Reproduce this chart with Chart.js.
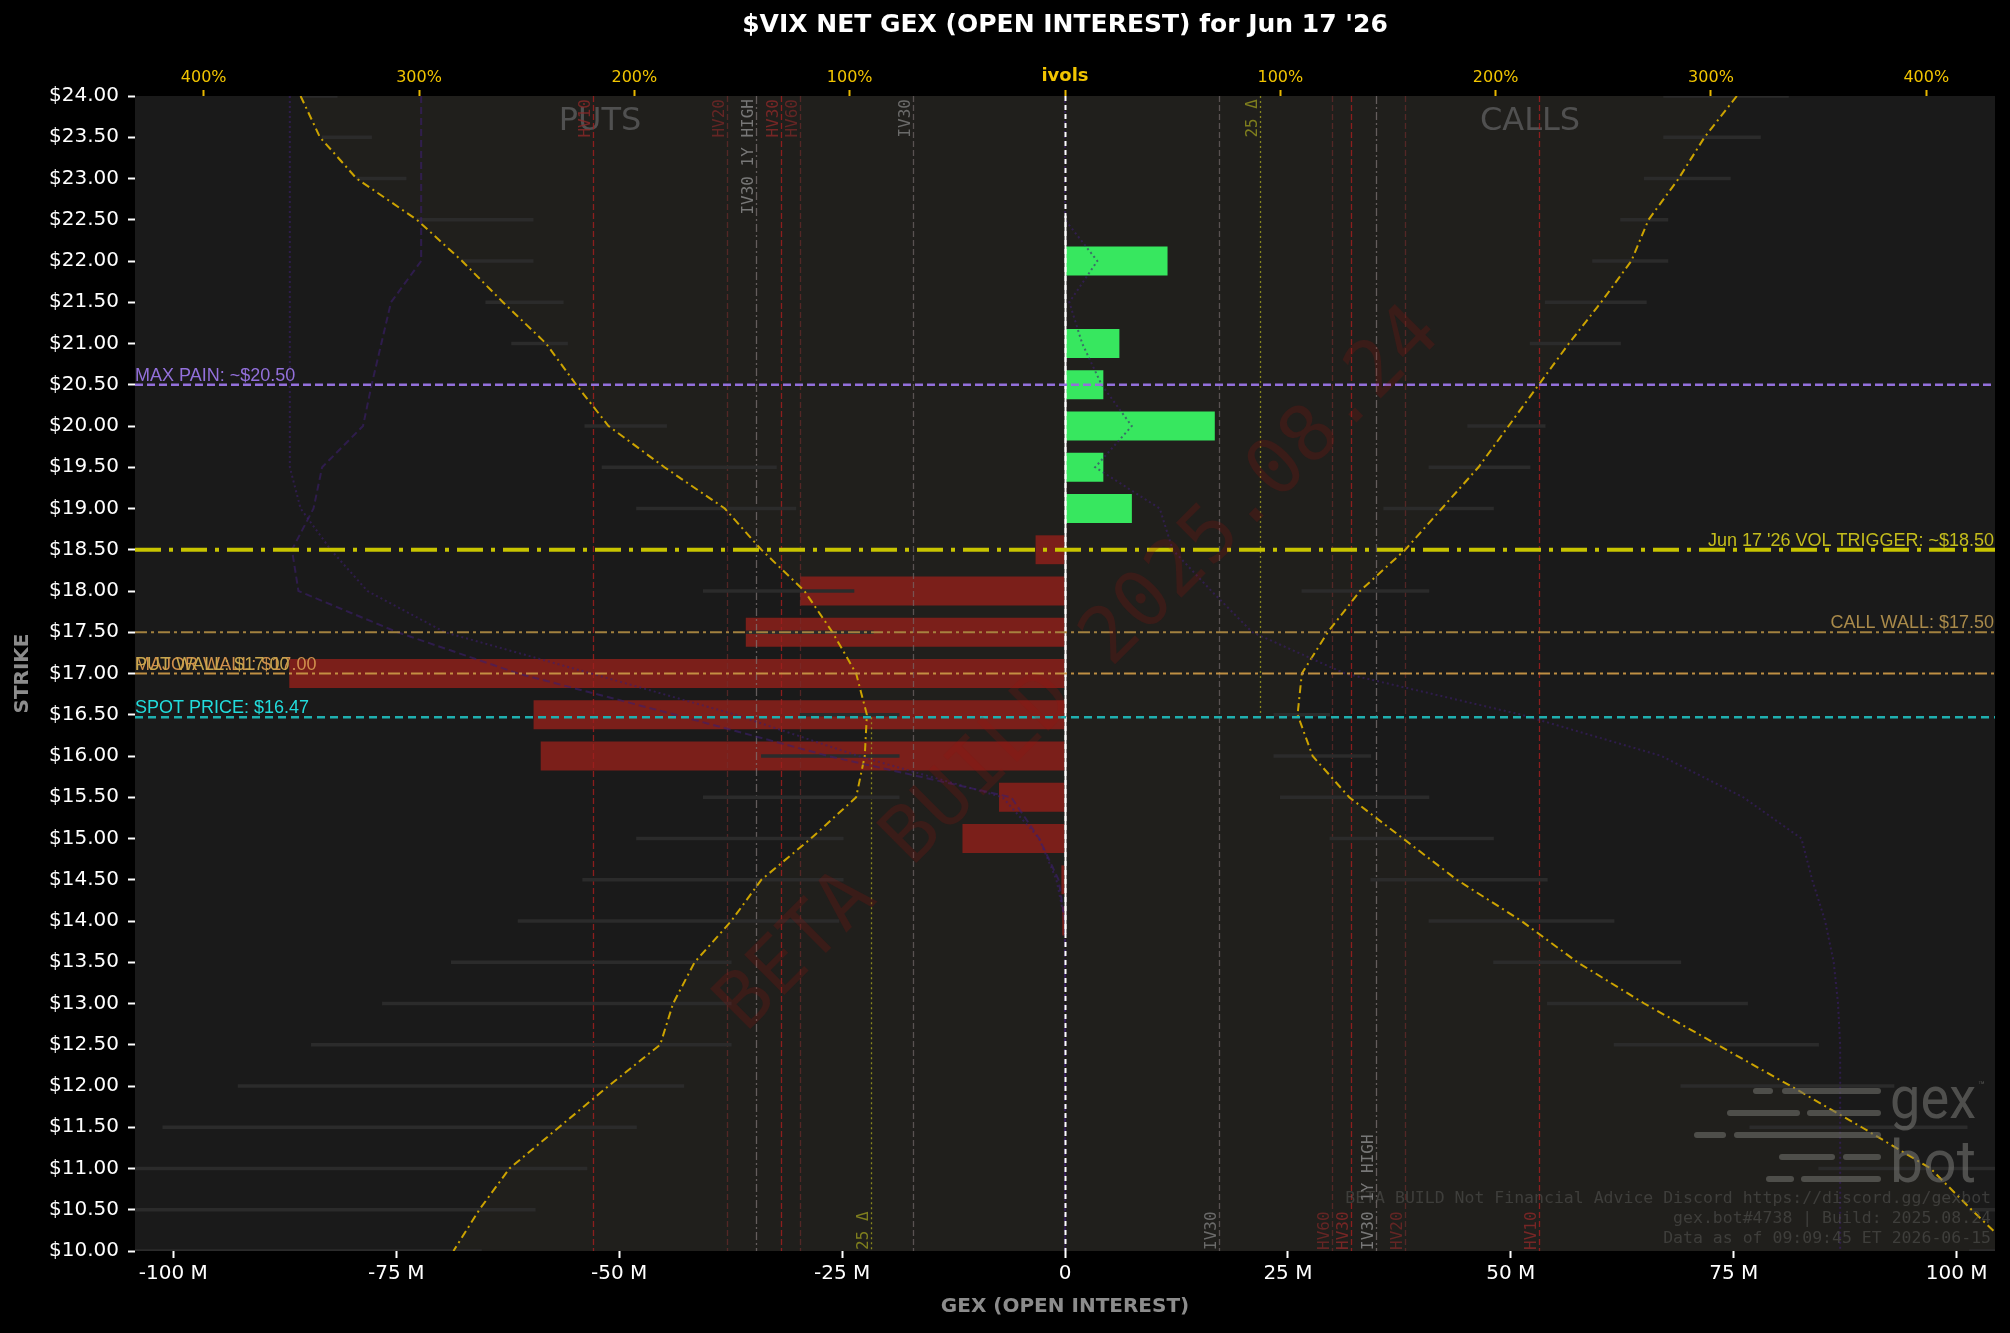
<!DOCTYPE html>
<html>
<head>
<meta charset="utf-8">
<title>$VIX NET GEX</title>
<script src="https://cdn.jsdelivr.net/npm/chart.js@4.4.1/dist/chart.umd.min.js"></script>
<style>
html,body{margin:0;padding:0;background:#000;overflow:hidden;}
canvas{display:block;}
</style>
</head>
<body>
<canvas id="chart" width="2010" height="1333"></canvas>
<script>
// ---------------- data ----------------
const chartTitle = "$VIX NET GEX (OPEN INTEREST) for Jun 17 '26";
const xAxisTitle = "GEX (OPEN INTEREST)";
const yAxisTitle = "STRIKE";

// net GEX bars (millions)
const gexStrikes = [22, 21, 20.5, 20, 19.5, 19, 18.5, 18, 17.5, 17, 16.5, 16, 15.5, 15, 14.5, 14];
const gexValues  = [11.5, 6.1, 4.3, 16.8, 4.3, 7.5, -3.3, -29.7, -35.8, -87.0, -59.6, -58.8, -7.4, -11.5, -0.4, -0.3];

// implied vol smile (percent), per strike
const ivolStrikes = [24, 23.5, 23, 22.5, 22, 21.5, 21, 20.5, 20, 19.5, 19, 18.5, 18, 17.5, 17, 16.5, 16, 15.5, 15, 14.5, 14, 13.5, 13, 12.5, 12, 11.5, 11, 10.5, 10];
const putIvol  = [355, 346, 329, 301, 280, 261, 241, 227, 212, 186, 158, 141, 121, 108, 97, 92, 93, 97, 118, 141, 155, 172, 182, 188, 212, 235, 258, 272, 284];
const callIvol = [312, 297, 285, 271, 263, 249, 234, 220, 206, 192, 175, 158, 137, 122, 110, 108, 115, 132, 157, 182, 212, 238, 269, 303, 337, 370, 402, 421, 441];

// bid/ask ivol ranges (percent, put side negative)
const putRangeLo  = [-355, -345, -329, -301, -280, -269, -257, null, -223, -215, -199, null, -168, -148, null, -123, -141, -168, -199, -224, -254, -285, -317, -350, -384, -419, -445, -445, -445];
const putRangeHi  = [-338, -322, -306, -247, -247, -233, -231, null, -185, -134, -125, null, -98, -89, null, -77, -77, -77, -103, -103, -105, -155, -155, -155, -177, -199, -222, -246, -271];
const callRangeLo = [278, 278, 269, 258, 245, 223, 216, null, 187, 169, 148, null, 110, null, null, 97, 97, 100, 123, 142, 169, 199, 224, 255, 286, 318, 350, 420, 420];
const callRangeHi = [336, 323, 309, 280, 280, 270, 258, null, 223, 216, 199, null, 169, null, null, 123, 142, 169, 199, 224, 255, 286, 317, 350, 385, 419, 445, 445, 445];

// faint secondary curves (percent)
const priorDashY = [24, 22, 21.5, 20.5, 20, 19.5, 19, 18.5, 18, 17.5, 17, 16.5, 16, 15.5, 15, 14.5, 14, 10];
const priorDashX = [-299, -299, -313, -322, -326, -345, -349, -359, -356, -310, -254, -181, -110, -25, -12, -3, 0, 0];
const priorDotLY = [24, 19.5, 19, 18.5, 18, 17.5, 17, 16.5, 16, 15.5, 15, 14.5, 14, 10];
const priorDotLX = [-360, -360, -355, -341, -324, -288, -220, -153, -96, -29, -12, -4, 0, 0];
const priorDotRY = [24, 22.5, 22, 21.5, 21, 20.5, 20, 19.5, 19, 18.5, 18, 17.5, 17, 16.5, 16, 15.5, 15, 14.5, 14, 13.5, 13, 12.5, 10];
const priorDotRX = [0, 0, 15, 2, 8, 17, 31, 14, 44, 50, 68, 87, 130, 212, 277, 315, 342, 347, 353, 357, 359, 360, 360];

// key levels
const maxPain = 20.5;
const volTrigger = 18.5;
const callWall = 17.5;
const putWall = 17.0;
const majorWall = 17.0;
const spotPrice = 16.47;
const expiryLabel = "Jun 17 '26";
const zeroLineSpan = [13.85, 22.55];

// volatility reference levels (percent)
const ivolLevelNames = ['HV10', 'HV20', 'IV30 1Y HIGH', 'HV30', 'HV60', 'IV30'];
const putIvolLevels  = [-219.3, -157.0, -143.4, -131.8, -123.2, -70.8];
const callIvolLevels = [220.3, 157.7, 144.3, 132.7, 124.2, 71.7];
const put25Delta = -90.0;
const call25Delta = 90.5;

// axis ranges / ticks
const gexRange = [-104.3, 104.3];
const gexStep = 25;
const ivolRange = [-431.9, 431.9];
const ivolStep = 100;
const strikeRange = [10, 24];
const strikeStep = 0.5;

const footerLines = [
  'BETA BUILD Not Financial Advice Discord https://discord.gg/gexbot',
  'gex.bot#4738 | Build: 2025.08.24',
  'Data as of 09:09:45 ET 2026-06-15'
];
const watermarkText = 'BETA BUILD 2025.08.24';

// ---------------- styles ----------------
const vStyle = {
  'HV10':         {line: 'rgba(160,30,30,0.85)', dash: [6, 3], text: 'rgba(140,40,40,0.8)'},
  'HV20':         {line: 'rgba(120,45,45,0.6)',  dash: [6, 3], text: 'rgba(130,40,40,0.7)'},
  'IV30 1Y HIGH': {line: 'rgba(130,120,120,0.7)', dash: [8, 3, 2, 3], text: 'rgba(135,135,135,0.85)'},
  'HV30':         {line: 'rgba(160,30,30,0.85)', dash: [6, 3], text: 'rgba(140,40,40,0.8)'},
  'HV60':         {line: 'rgba(120,45,45,0.6)',  dash: [6, 3], text: 'rgba(130,40,40,0.7)'},
  'IV30':         {line: 'rgba(120,110,110,0.65)', dash: [6, 3], text: 'rgba(125,125,125,0.8)'}
};
const FONT = 'DejaVu Sans';
const LABEL_FONT = '18px "Liberation Sans"';

Chart.defaults.font.family = FONT;

const pts = (ys, xs) => ys.map((y, i) => xs[i] == null ? null : {y: y, x: xs[i]}).filter(Boolean);
const rangePts = (ys, lo, hi) => ys.map((y, i) => lo[i] == null ? null : {y: y, x: [lo[i], hi[i]]}).filter(Boolean);

function vLabel(ctx, text, px, yAnchor, fromTop, color) {
  ctx.save();
  ctx.translate(px - 4, yAnchor);
  ctx.rotate(-Math.PI / 2);
  ctx.font = '16px "DejaVu Sans Mono"';
  ctx.fillStyle = color;
  ctx.textAlign = fromTop ? 'right' : 'left';
  ctx.textBaseline = 'alphabetic';
  ctx.fillText(text, 0, 0);
  ctx.restore();
}

function hLine(ctx, a, py, color, width, dash) {
  ctx.save();
  ctx.strokeStyle = color;
  ctx.lineWidth = width;
  ctx.setLineDash(dash);
  ctx.beginPath();
  ctx.moveTo(a.left, py);
  ctx.lineTo(a.right, py);
  ctx.stroke();
  ctx.restore();
}

function hText(ctx, text, x, py, align, color) {
  ctx.save();
  ctx.font = LABEL_FONT;
  ctx.fillStyle = color;
  ctx.textAlign = align;
  ctx.textBaseline = 'alphabetic';
  ctx.fillText(text, x, py - 4);
  ctx.restore();
}

const decor = {
  id: 'gexDecor',
  beforeDraw(chart) {
    const {ctx, chartArea: a} = chart;
    ctx.save();
    ctx.fillStyle = '#000';
    ctx.fillRect(0, 0, chart.width, chart.height);
    ctx.fillStyle = '#1a1a1a';
    ctx.fillRect(a.left, a.top, a.right - a.left, a.bottom - a.top);
    ctx.restore();
  },
  afterDatasetDraw(chart, args) {
    if (chart.data.datasets[args.index].label !== 'GEX') return;
    const {ctx, chartArea: a, scales} = chart;
    const x = scales.x, x2 = scales.x2, y = scales.y;
    ctx.save();
    ctx.beginPath();
    ctx.rect(a.left, a.top, a.right - a.left, a.bottom - a.top);
    ctx.clip();
    // PUTS / CALLS
    ctx.font = '32px "' + FONT + '"';
    ctx.fillStyle = '#505050';
    ctx.textAlign = 'center';
    ctx.textBaseline = 'middle';
    ctx.fillText('PUTS', x.getPixelForValue(x.min / 2), a.top + 26);
    ctx.fillText('CALLS', x.getPixelForValue(x.max / 2), a.top + 26);
    // vertical vol levels
    [[putIvolLevels, true], [callIvolLevels, false]].forEach(([vals, top]) => {
      vals.forEach((v, i) => {
        const name = ivolLevelNames[i];
        const st = vStyle[name];
        const px = Math.round(x2.getPixelForValue(v)) + 0.5;
        ctx.save();
        ctx.strokeStyle = st.line;
        ctx.lineWidth = 1.3;
        ctx.setLineDash(st.dash);
        ctx.beginPath();
        ctx.moveTo(px, a.top);
        ctx.lineTo(px, a.bottom);
        ctx.stroke();
        ctx.restore();
        vLabel(ctx, name, px, top ? a.top + 3 : a.bottom - 1, top, st.text);
      });
    });
    // 25 delta lines
    const spotPx = y.getPixelForValue(spotPrice);
    ctx.save();
    ctx.strokeStyle = 'rgba(170,170,30,0.75)';
    ctx.lineWidth = 1.3;
    ctx.setLineDash([2, 3]);
    let px = Math.round(x2.getPixelForValue(put25Delta)) + 0.5;
    ctx.beginPath(); ctx.moveTo(px, spotPx); ctx.lineTo(px, a.bottom); ctx.stroke();
    vLabel(ctx, '25 \u0394', px, a.bottom - 1, false, 'rgba(150,150,30,0.8)');
    px = Math.round(x2.getPixelForValue(call25Delta)) + 0.5;
    ctx.beginPath(); ctx.moveTo(px, a.top); ctx.lineTo(px, spotPx); ctx.stroke();
    vLabel(ctx, '25 \u0394', px, a.top + 3, true, 'rgba(150,150,30,0.8)');
    ctx.restore();
    ctx.restore();
  },
  afterDatasetsDraw(chart) {
    const {ctx, chartArea: a, scales} = chart;
    const x = scales.x, y = scales.y;
    ctx.save();
    ctx.beginPath();
    ctx.rect(a.left, a.top, a.right - a.left, a.bottom - a.top);
    ctx.clip();
    // zero line
    const zx = Math.round(x.getPixelForValue(0)) + 0.5;
    ctx.save();
    ctx.strokeStyle = '#ffffff';
    ctx.lineWidth = 2;
    ctx.setLineDash([5, 4]);
    ctx.beginPath(); ctx.moveTo(zx, a.top); ctx.lineTo(zx, a.bottom); ctx.stroke();
    ctx.setLineDash([]);
    ctx.beginPath();
    ctx.moveTo(zx, y.getPixelForValue(zeroLineSpan[1]));
    ctx.lineTo(zx, y.getPixelForValue(zeroLineSpan[0]));
    ctx.stroke();
    ctx.restore();

    // key level lines
    const pMax = y.getPixelForValue(maxPain);
    const pVt = y.getPixelForValue(volTrigger);
    const pCw = y.getPixelForValue(callWall);
    const pPw = y.getPixelForValue(putWall);
    const pMw = y.getPixelForValue(majorWall);
    const pSp = y.getPixelForValue(spotPrice);
    hLine(ctx, a, pMax, '#9370db', 2.5, [8, 4]);
    hLine(ctx, a, pCw, 'rgba(170,135,65,0.95)', 2, [12, 4, 3, 4]);
    hLine(ctx, a, pPw, 'rgba(200,150,70,0.95)', 2, [12, 4, 3, 4]);
    hLine(ctx, a, pSp, '#1fb0b0', 2.5, [8, 5]);
    hLine(ctx, a, pVt, '#c8c400', 4, [26, 8, 4, 8]);

    hText(ctx, 'MAX PAIN: ~$' + maxPain.toFixed(2), a.left, pMax, 'left', '#9370db');
    hText(ctx, expiryLabel + ' VOL TRIGGER: ~$' + volTrigger.toFixed(2), a.right - 1, pVt, 'right', '#c4bd1c');
    hText(ctx, 'CALL WALL: $' + callWall.toFixed(2), a.right - 1, pCw, 'right', '#a98a4a');
    hText(ctx, 'MAJOR WALL: $' + majorWall.toFixed(2), a.left, pMw, 'left', '#d0904c');
    hText(ctx, 'PUT WALL: $' + putWall.toFixed(2), a.left, pPw, 'left', '#c8a64e');
    hText(ctx, 'SPOT PRICE: $' + spotPrice.toFixed(2), a.left, pSp, 'left', '#22dcdc');

    // watermark
    ctx.save();
    ctx.translate((a.left + a.right) / 2 + 15, (a.top + a.bottom) / 2 - 3);
    ctx.rotate(-Math.PI / 4);
    ctx.font = '78px "DejaVu Sans Mono"';
    ctx.fillStyle = 'rgba(150,20,15,0.22)';
    ctx.textAlign = 'center';
    ctx.textBaseline = 'middle';
    ctx.fillText(watermarkText, 0, 0);
    ctx.restore();

    // logo
    const R = a.right, B = a.bottom;
    const rows = [
      [B - 160, [[239, 225], [210, 117]]],
      [B - 138, [[265, 198], [185, 117]]],
      [B - 116, [[298, 272], [258, 117]]],
      [B - 94,  [[213, 163], [149, 117]]],
      [B - 72,  [[226, 204], [191, 117]]]
    ];
    ctx.save();
    ctx.strokeStyle = 'rgba(110,110,105,0.6)';
    ctx.lineWidth = 6;
    ctx.lineCap = 'round';
    rows.forEach(([ry, segs]) => {
      segs.forEach(([s, e]) => {
        ctx.beginPath(); ctx.moveTo(R - s, ry); ctx.lineTo(R - e, ry); ctx.stroke();
      });
    });
    ctx.fillStyle = 'rgba(115,115,112,0.6)';
    ctx.font = '60px Roboto';
    ctx.textAlign = 'left';
    ctx.textBaseline = 'alphabetic';
    [['gex', B - 133], ['bot', B - 69]].forEach(([t, by]) => {
      const w = ctx.measureText(t).width;
      ctx.save();
      ctx.translate(R - 105, by);
      ctx.scale(86 / w, 1);
      ctx.fillText(t, 0, 0);
      ctx.restore();
    });
    ctx.font = '11px Roboto';
    ctx.fillText('\u2122', R - 17, B - 162);
    ctx.restore();

    // footer
    ctx.save();
    ctx.font = '16.5px "DejaVu Sans Mono"';
    ctx.fillStyle = 'rgba(100,100,98,0.45)';
    ctx.textAlign = 'right';
    ctx.textBaseline = 'middle';
    footerLines.forEach((t, i) => ctx.fillText(t, R - 4, B - 52 + i * 20));
    ctx.restore();

    ctx.restore();
  },
  afterDraw(chart) {
    const {ctx, chartArea: a} = chart;
    ctx.save();
    ctx.font = 'bold 25px "' + FONT + '"';
    ctx.fillStyle = '#ffffff';
    ctx.textAlign = 'center';
    ctx.textBaseline = 'middle';
    ctx.fillText(chartTitle, (a.left + a.right) / 2, 25);
    ctx.restore();
  }
};

const shade = 'rgba(255,230,100,0.026)';
const priorColor = 'rgba(60,30,110,0.6)';

const config = {
  type: 'bar',
  data: {
    datasets: [
      {
        type: 'bar', label: 'GEX', indexAxis: 'y', xAxisID: 'x', yAxisID: 'y',
        data: pts(gexStrikes, gexValues),
        backgroundColor: gexValues.map(v => v >= 0 ? '#37e75f' : '#7b1f1a'),
        borderWidth: 0, grouped: false, barPercentage: 1, categoryPercentage: 0.7, order: 10
      },
      {
        type: 'bar', label: 'Put IV range', indexAxis: 'y', xAxisID: 'x2', yAxisID: 'y',
        data: rangePts(ivolStrikes, putRangeLo, putRangeHi),
        backgroundColor: '#2b2b2b', borderWidth: 0, grouped: false, barThickness: 3, order: 6
      },
      {
        type: 'bar', label: 'Call IV range', indexAxis: 'y', xAxisID: 'x2', yAxisID: 'y',
        data: rangePts(ivolStrikes, callRangeLo, callRangeHi),
        backgroundColor: '#2b2b2b', borderWidth: 0, grouped: false, barThickness: 3, order: 6
      },
      {
        type: 'line', label: 'Put IV', indexAxis: 'y', xAxisID: 'x2', yAxisID: 'y',
        data: pts(ivolStrikes, putIvol.map(v => -v)),
        borderColor: 'rgb(204,163,0)', borderWidth: 2, borderDash: [8, 4, 2, 4],
        pointRadius: 0, tension: 0, fill: 'origin', backgroundColor: shade, order: 3
      },
      {
        type: 'line', label: 'Call IV', indexAxis: 'y', xAxisID: 'x2', yAxisID: 'y',
        data: pts(ivolStrikes, callIvol),
        borderColor: 'rgb(204,163,0)', borderWidth: 2, borderDash: [8, 4, 2, 4],
        pointRadius: 0, tension: 0, fill: 'origin', backgroundColor: shade, order: 3
      },
      {
        type: 'line', label: 'Prior A', indexAxis: 'y', xAxisID: 'x2', yAxisID: 'y',
        data: pts(priorDashY, priorDashX),
        borderColor: priorColor, borderWidth: 2, borderDash: [7, 4],
        pointRadius: 0, tension: 0, fill: false, order: 1
      },
      {
        type: 'line', label: 'Prior B', indexAxis: 'y', xAxisID: 'x2', yAxisID: 'y',
        data: pts(priorDotLY, priorDotLX),
        borderColor: priorColor, borderWidth: 2, borderDash: [2, 3],
        pointRadius: 0, tension: 0, fill: false, order: 1
      },
      {
        type: 'line', label: 'Prior C', indexAxis: 'y', xAxisID: 'x2', yAxisID: 'y',
        data: pts(priorDotRY, priorDotRX),
        borderColor: priorColor, borderWidth: 2, borderDash: [2, 3],
        pointRadius: 0, tension: 0, fill: false, order: 1
      }
    ]
  },
  options: {
    indexAxis: 'y',
    responsive: false,
    devicePixelRatio: 1,
    animation: false,
    layout: {padding: {left: 0, right: 15, top: 0, bottom: 0}},
    plugins: {
      legend: {display: false},
      tooltip: {enabled: false},
      title: {display: false},
      filler: {drawTime: 'beforeDatasetsDraw'}
    },
    scales: {
      x: {
        type: 'linear', axis: 'x', position: 'bottom',
        min: gexRange[0], max: gexRange[1],
        border: {display: false},
        grid: {drawOnChartArea: false, drawTicks: true, tickLength: 7, tickColor: '#ffffff', tickWidth: 2, offset: false},
        ticks: {
          stepSize: gexStep, includeBounds: false, autoSkip: false, maxRotation: 0, padding: 4,
          color: '#ffffff', font: {family: FONT, size: 20},
          callback: v => v === 0 ? '0' : v + ' M'
        },
        title: {display: true, text: xAxisTitle, color: '#8c8c8c', font: {family: FONT, size: 20, weight: 'bold'}, padding: {top: 0, bottom: 14}},
        afterFit: s => { s.height = 82; }
      },
      x2: {
        type: 'linear', axis: 'x', position: 'top',
        min: ivolRange[0], max: ivolRange[1],
        border: {display: false},
        grid: {drawOnChartArea: false, drawTicks: true, tickLength: 6, tickColor: '#e8b800', tickWidth: 2, offset: false},
        ticks: {
          stepSize: ivolStep, includeBounds: false, autoSkip: false, maxRotation: 0, padding: 3,
          color: '#f2c500',
          font: ctx => (ctx.tick && ctx.tick.value === 0) ? {family: FONT, size: 18, weight: 'bold'} : {family: FONT, size: 16},
          callback: v => v === 0 ? 'ivols' : Math.abs(v) + '%'
        },
        afterFit: s => { s.height = 96; }
      },
      y: {
        type: 'linear', axis: 'y', position: 'left',
        min: strikeRange[0], max: strikeRange[1], offset: false,
        border: {display: false},
        grid: {drawOnChartArea: false, drawTicks: true, tickLength: 7, tickColor: '#ffffff', tickWidth: 2, offset: false},
        ticks: {
          stepSize: strikeStep, maxTicksLimit: 100, autoSkip: false, padding: 9,
          color: '#ffffff', font: {family: FONT, size: 20},
          callback: v => '$' + Number(v).toFixed(2)
        },
        title: {display: true, text: yAxisTitle, color: '#8c8c8c', font: {family: FONT, size: 20, weight: 'bold'}, padding: {top: 11, bottom: 0}},
        afterFit: s => { s.width = 135; }
      }
    }
  },
  plugins: [decor]
};

new Chart(document.getElementById('chart'), config);
</script>
</body>
</html>
